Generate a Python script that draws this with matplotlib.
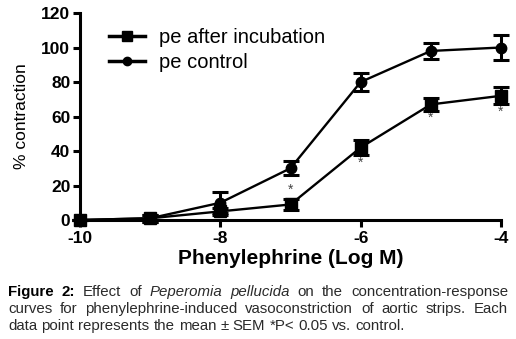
import matplotlib
matplotlib.use("Agg")
import matplotlib.pyplot as plt
from matplotlib.lines import Line2D

plt.rcParams['font.family'] = ['Liberation Sans', 'DejaVu Sans']

# == Data ==
log_conc = [-10, -9, -8, -7, -6, -5, -4]
after_mean = [0, 1, 5, 9, 42, 67, 72]
after_sem = [0, 2, 2, 3, 4.5, 4, 5]
control_mean = [0, 1, 10, 30, 80, 98, 100]
control_sem = [0, 2, 6, 4, 5, 4.5, 7]
# significance stars (x, y)
star_x = [-7, -6, -5, -4]
star_y = [17.5, 33, 59, 62.5]

x_ticks = [-10, -8, -6, -4]
y_ticks = [0, 20, 40, 60, 80, 100, 120]

W, H = 516, 339
fig = plt.figure(figsize=(W / 100, H / 100), dpi=100)
ax = fig.add_axes([80 / W, 1 - 220 / H, 421 / W, 207 / H])

# Control curve (circles)
ax.errorbar(log_conc, control_mean, yerr=control_sem, color="black", lw=1.7,
            marker='o', markersize=7.5, capsize=5.5, elinewidth=2.2, capthick=2.2,
            clip_on=False, zorder=5)
# After incubation curve (squares)
ax.errorbar(log_conc, after_mean, yerr=after_sem, color="black", lw=1.7,
            marker='s', markersize=8.5, capsize=5.5, elinewidth=2.2, capthick=2.2,
            clip_on=False, zorder=6)

for sx, sy in zip(star_x, star_y):
    ax.text(sx, sy, "*", ha="center", va="center", fontsize=10, color="#444444")

ax.set_xlim(-10, -4)
ax.set_ylim(0, 120)
ax.set_xticks(x_ticks)
ax.set_yticks(y_ticks)
ax.set_xticklabels([str(t) for t in x_ticks], fontweight="bold", fontsize=12.5)
ax.set_yticklabels([str(t) for t in y_ticks], fontweight="bold", fontsize=12.5)
ax.tick_params(length=5, width=2.2, pad=2)
ax.tick_params(axis="x", pad=3)

for side in ["top", "right"]:
    ax.spines[side].set_visible(False)
for side in ["left", "bottom"]:
    ax.spines[side].set_linewidth(2.2)

ax.set_xlabel("Phenylephrine (Log M)", fontweight="bold", fontsize=15, labelpad=2)
ax.set_ylabel("% contraction", fontsize=12.5, labelpad=9)

# Legend
handles = [
    Line2D([], [], color="black", lw=2.5, marker='s', markersize=7),
    Line2D([], [], color="black", lw=2.5, marker='o', markersize=6),
]
ax.legend(handles, ["pe after incubation", "pe control"], loc="upper left",
          bbox_to_anchor=(0.025, 1.015), frameon=False, fontsize=14.5,
          handlelength=1.8, handletextpad=0.7, labelspacing=0.3)

# == Caption (justified) ==
renderer = fig.canvas.get_renderer()
cap_size = 10.8
x0, x1 = 8, 508

def put_line(words, y_px, justify=True):
    texts = []
    for word, style in words:
        t = fig.text(0, 1 - y_px / H, word, fontsize=cap_size, va="center",
                     color="black" if style == "b" else "#2a2a2a",
                     fontweight="bold" if style == "b" else "normal",
                     fontstyle="italic" if style == "i" else "normal")
        texts.append(t)
    widths = [t.get_window_extent(renderer).width for t in texts]
    if justify:
        gap = (x1 - x0 - sum(widths)) / (len(texts) - 1)
    else:
        gap = cap_size * 0.278 * 100 / 72
    x = x0
    for t, w in zip(texts, widths):
        t.set_x(x / W)
        x += w + gap

line1 = [("Figure", "b"), ("2:", "b"), ("Effect", ""), ("of", ""), ("Peperomia", "i"),
         ("pellucida", "i"), ("on", ""), ("the", ""), ("concentration-response", "")]
line2 = [(w, "") for w in "curves for phenylephrine-induced vasoconstriction of aortic strips. Each".split()]
line3 = [(w, "") for w in "data point represents the mean ± SEM *P< 0.05 vs. control.".split()]

put_line(line1, 292)
put_line(line2, 309)
put_line(line3, 326, justify=False)

fig.savefig("out.png", dpi=100)
